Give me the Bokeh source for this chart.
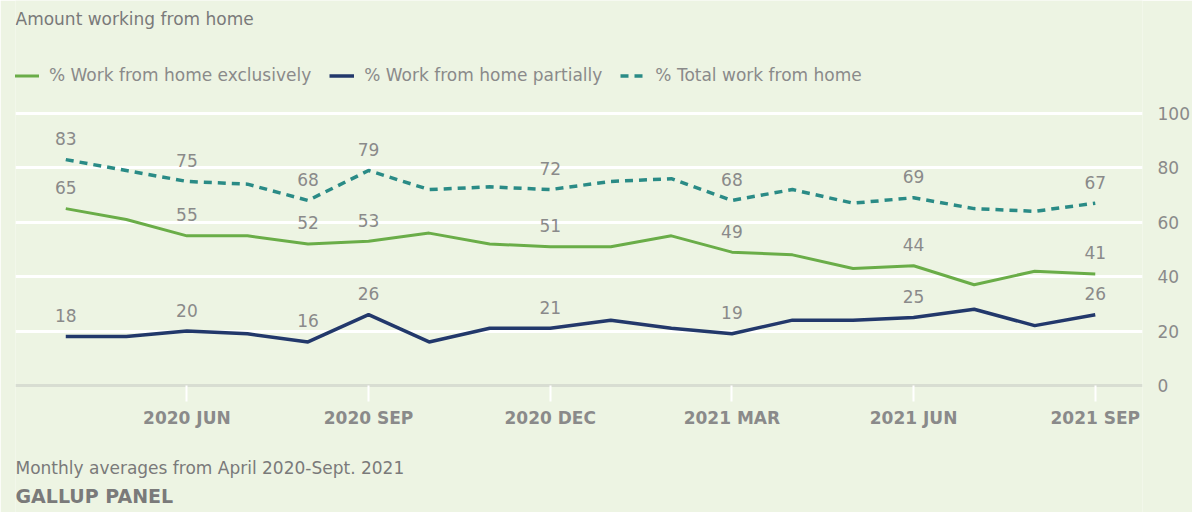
from bokeh.plotting import figure
from bokeh.models import (ColumnDataSource, Range1d, FixedTicker, Label, Legend, LegendItem)
from bokeh.core.properties import value
from bokeh.embed import file_html
from bokeh.resources import INLINE

# ---- data ----
months = ["2020-04", "2020-05", "2020-06", "2020-07", "2020-08", "2020-09",
          "2020-10", "2020-11", "2020-12", "2021-01", "2021-02", "2021-03",
          "2021-04", "2021-05", "2021-06", "2021-07", "2021-08", "2021-09"]
exclusive = [65, 61, 55, 55, 52, 53, 56, 52, 51, 51, 55, 49, 48, 43, 44, 37, 42, 41]
partial = [18, 18, 20, 19, 16, 26, 16, 21, 21, 24, 21, 19, 24, 24, 25, 28, 22, 26]
total = [83, 79, 75, 74, 68, 79, 72, 73, 72, 75, 76, 68, 72, 67, 69, 65, 64, 67]
labeled_idx = [0, 2, 4, 5, 8, 11, 14, 17]
tick_idx = [2, 5, 8, 11, 14, 17]
tick_labels = ["2020 JUN", "2020 SEP", "2020 DEC", "2021 MAR", "2021 JUN", "2021 SEP"]
y_ticks = [0, 20, 40, 60, 80, 100]
grid_ticks = [20, 40, 60, 80, 100]

BG = "#edf4e3"
GREEN = "#6aad48"
NAVY = "#22386b"
TEAL = "#2a8b86"
GRAY = "#8a8a8a"
DARKGRAY = "#7a7a7a"
FONT = "DejaVu Sans"
FS = "17px"

xs = list(range(len(months)))

W, H = 1192, 512
p = figure(width=W, height=H, output_backend="svg", toolbar_location=None,
           x_range=Range1d(-0.83, 17.78), y_range=Range1d(-46.7, 141.5),
           y_axis_location="right",
           min_border_left=15, min_border_right=49, min_border_top=0, min_border_bottom=0)
p.background_fill_color = BG
p.border_fill_color = BG
p.outline_line_color = None

# grid
p.xgrid.grid_line_color = None
p.ygrid.ticker = FixedTicker(ticks=grid_ticks)
p.ygrid.grid_line_color = "white"
p.ygrid.grid_line_width = 3

# x axis, pinned at zero
xa = p.xaxis[0]
xa.fixed_location = 0
xa.ticker = FixedTicker(ticks=tick_idx)
xa.major_label_overrides = {i: t for i, t in zip(tick_idx, tick_labels)}
xa.axis_line_color = "#d8ddd2"
xa.axis_line_width = 3
xa.major_tick_line_color = "white"
xa.major_tick_line_width = 2
xa.major_tick_out = 16
xa.major_tick_in = 0
xa.minor_tick_line_color = None
xa.major_label_standoff = 7
xa.major_label_text_font = FONT
xa.major_label_text_font_size = FS
xa.major_label_text_font_style = "bold"
xa.major_label_text_color = GRAY

# y axis (right)
ya = p.yaxis[0]
ya.ticker = FixedTicker(ticks=y_ticks)
ya.axis_line_color = None
ya.major_tick_line_color = None
ya.minor_tick_line_color = None
ya.major_tick_out = 0
ya.minor_tick_out = 0
ya.major_label_standoff = 15
ya.major_label_text_font = FONT
ya.major_label_text_font_size = FS
ya.major_label_text_color = GRAY

# lines
r_ex = p.line(xs, exclusive, line_color=GREEN, line_width=3)
r_pa = p.line(xs, partial, line_color=NAVY, line_width=3.5)
r_to = p.line(xs, total, line_color=TEAL, line_width=3.5, line_dash="8 6")

# value labels
lx, ly, lt = [], [], []
for series in (exclusive, partial, total):
    for i in labeled_idx:
        lx.append(i)
        ly.append(series[i])
        lt.append(str(series[i]))
src = ColumnDataSource(dict(x=lx, y=ly, t=lt))
p.text(x="x", y="y", text="t", source=src, text_align="center", text_baseline="middle",
       y_offset=-21, text_font=value(FONT), text_font_size=FS, text_color=GRAY)

# legend
legend = Legend(items=[
    LegendItem(label="% Work from home exclusively", renderers=[r_ex]),
    LegendItem(label="% Work from home partially", renderers=[r_pa]),
    LegendItem(label="% Total work from home", renderers=[r_to]),
], location=(-1, 427), orientation="horizontal", padding=2, margin=0, spacing=18,
    label_standoff=10, glyph_width=25, glyph_height=17, label_height=17,
    background_fill_alpha=0, border_line_color=None,
    label_text_font=FONT, label_text_font_size=FS, label_text_color=GRAY)
p.add_layout(legend, "center")

# title and footer
p.add_layout(Label(x=0, y=H - 18, x_units="screen", y_units="screen",
                   text="Amount working from home", text_baseline="middle",
                   text_font=FONT, text_font_size=FS, text_color=DARKGRAY))
p.add_layout(Label(x=0, y=H - 467, x_units="screen", y_units="screen",
                   text="Monthly averages from April 2020-Sept. 2021", text_baseline="middle",
                   text_font=FONT, text_font_size=FS, text_color=DARKGRAY))
p.add_layout(Label(x=0, y=H - 495, x_units="screen", y_units="screen",
                   text="GALLUP PANEL", text_baseline="middle", text_font_style="bold",
                   text_font=FONT, text_font_size="19px", text_color=DARKGRAY))

open("out.html", "w").write(file_html(p, INLINE))
